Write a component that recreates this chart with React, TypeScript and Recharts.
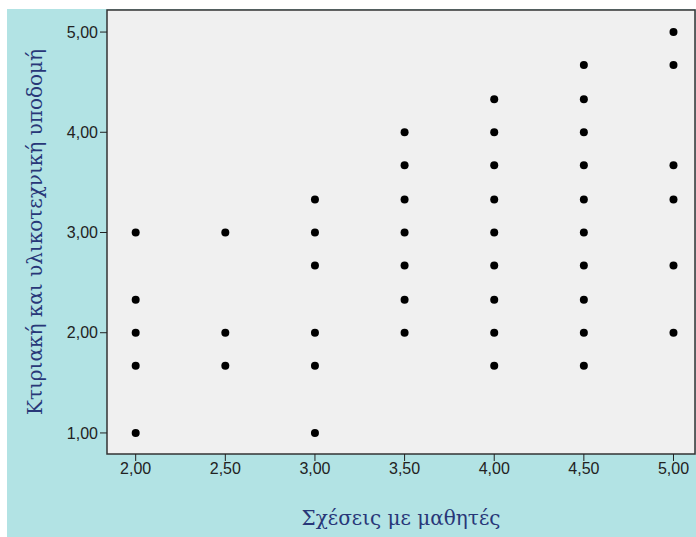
import { ScatterChart, Scatter, XAxis, YAxis, ReferenceArea } from 'recharts';

// y values observed at each x position
const AT_200 = [3.0, 2.33, 2.0, 1.67, 1.0];
const AT_250 = [3.0, 2.0, 1.67];
const AT_300 = [3.33, 3.0, 2.67, 2.0, 1.67, 1.0];
const AT_350 = [4.0, 3.67, 3.33, 3.0, 2.67, 2.33, 2.0];
const AT_400 = [4.33, 4.0, 3.67, 3.33, 3.0, 2.67, 2.33, 2.0, 1.67];
const AT_450 = [4.67, 4.33, 4.0, 3.67, 3.33, 3.0, 2.67, 2.33, 2.0, 1.67];
const AT_500 = [5.0, 4.67, 3.67, 3.33, 2.67, 2.0];

const X_VALUES = [2.0, 2.5, 3.0, 3.5, 4.0, 4.5, 5.0];
const COLUMNS = [AT_200, AT_250, AT_300, AT_350, AT_400, AT_450, AT_500];

const X_TICKS = [2.0, 2.5, 3.0, 3.5, 4.0, 4.5, 5.0];
const Y_TICKS = [1.0, 2.0, 3.0, 4.0, 5.0];

const X_TITLE = 'Σχέσεις με μαθητές';
const Y_TITLE = 'Κτιριακή και υλικοτεχνική υποδομή';

const X_DOMAIN: [number, number] = [1.84, 5.12];
const Y_DOMAIN: [number, number] = [0.79, 5.22];

const points = COLUMNS.flatMap((ys, i) => ys.map((y) => ({ x: X_VALUES[i], y })));

const fmt = (v: number) => v.toFixed(2).replace('.', ',');

const TITLE_STYLE = {
  fontFamily: '"DejaVu Serif", "Liberation Serif", serif',
  fontSize: 20,
  fill: '#283778',
};

const TICK_STYLE = {
  fontFamily: '"Liberation Sans", Arial, sans-serif',
  fontSize: 16,
  fill: '#222',
};

function XTitle({ viewBox }: any) {
  const { x, y, width } = viewBox;
  return (
    <text x={x + width / 2} y={y + 64} textAnchor="middle" dominantBaseline="central" {...TITLE_STYLE}>
      {X_TITLE}
    </text>
  );
}

function YTitle({ viewBox }: any) {
  const { x, y, height } = viewBox;
  const cx = x + 28;
  const cy = y + height / 2;
  return (
    <text
      x={cx}
      y={cy}
      transform={`rotate(-90 ${cx} ${cy})`}
      textAnchor="middle"
      dominantBaseline="central"
      {...TITLE_STYLE}
    >
      {Y_TITLE}
    </text>
  );
}

const Dot = (props: any) => <circle cx={props.cx} cy={props.cy} r={4} fill="#000" />;

export default function App() {
  return (
    <div style={{ position: 'absolute', left: 7, top: 9, width: 689, height: 528, background: '#b2e3e4' }}>
      <ScatterChart width={689} height={528} margin={{ top: 1, right: 1, left: 0, bottom: 0 }}>
        <XAxis
          type="number"
          dataKey="x"
          domain={X_DOMAIN}
          ticks={X_TICKS}
          tickFormatter={fmt}
          height={83}
          axisLine={false}
          tickLine={{ stroke: '#222' }}
          tickSize={7}
          tick={TICK_STYLE}
          label={<XTitle />}
          allowDataOverflow
        />
        <YAxis
          type="number"
          dataKey="y"
          domain={Y_DOMAIN}
          ticks={Y_TICKS}
          tickFormatter={fmt}
          width={100}
          axisLine={false}
          tickLine={{ stroke: '#222' }}
          tickSize={7}
          tick={TICK_STYLE}
          label={<YTitle />}
          allowDataOverflow
        />
        <ReferenceArea
          x1={X_DOMAIN[0]}
          x2={X_DOMAIN[1]}
          y1={Y_DOMAIN[0]}
          y2={Y_DOMAIN[1]}
          fill="#f0f0f0"
          fillOpacity={1}
          stroke="#333"
          strokeWidth={1.5}
        />
        <Scatter data={points} shape={Dot} isAnimationActive={false} />
      </ScatterChart>
    </div>
  );
}
